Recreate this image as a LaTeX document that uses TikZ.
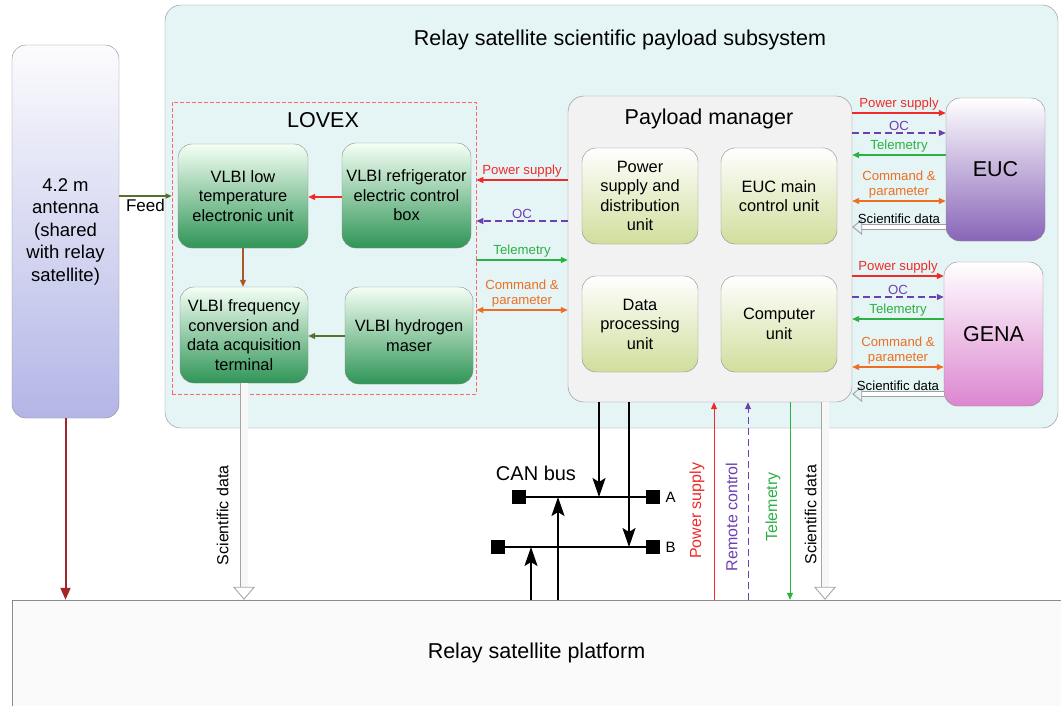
\documentclass[tikz,border=0pt]{standalone}
\usepackage{fontspec}
\setmainfont{Liberation Sans}
\usetikzlibrary{positioning,calc,arrows.meta}

\definecolor{pwred}{HTML}{F02A2A}
\definecolor{ocpurple}{HTML}{6E3FB0}
\definecolor{tmgreen}{HTML}{2EB045}
\definecolor{cmdorange}{HTML}{EE6E22}
\definecolor{feedgreen}{HTML}{55702F}
\definecolor{antred}{HTML}{A0262A}
\definecolor{brownarr}{HTML}{A8582A}
\definecolor{subfill}{HTML}{E5F5F5}
\definecolor{vlbigreen}{HTML}{2F9556}
\definecolor{unitgreen}{HTML}{D0DE9C}
\definecolor{eucpurple}{HTML}{8865B8}
\definecolor{genapink}{HTML}{DC86D0}
\definecolor{antblue}{HTML}{B3B6E6}
\definecolor{boxgray}{HTML}{8A8A8A}

\tikzset{
  box/.style={draw=boxgray, rounded corners=14pt, align=center, inner sep=2pt,
              font=\fontsize{16.4}{19.5}\selectfont},
  vlbi/.style={box, top color=green!4!white, bottom color=vlbigreen,
               minimum width=129pt, minimum height=100pt},
  unit/.style={box, top color=white, bottom color=unitgreen,
               minimum width=116pt, minimum height=96pt},
  big/.style={font=\fontsize{21.5}{24}\selectfont},
  lbl/.style={font=\fontsize{13.2}{15}\selectfont, inner sep=2pt, align=center},
  vlbl/.style={font=\fontsize{16}{18}\selectfont, rotate=90, anchor=south, inner xsep=3pt, inner ysep=9pt},
  tip/.style={-{Triangle[length=7pt,width=6pt]}},
  pwline/.style={pwred, line width=1.2pt, tip},
  ocline/.style={ocpurple, line width=1.2pt, dash pattern=on 7pt off 4pt, tip},
  tmline/.style={tmgreen, line width=1.2pt, tip},
  cmdline/.style={cmdorange, line width=1.2pt, {Triangle[length=7pt,width=6pt]}-{Triangle[length=7pt,width=6pt]}},
  sci/.style={draw=gray!75, line width=0.9pt, double=white, double distance=3.5pt,
              -{Triangle[open, length=10pt, width=16pt]}},
  scidown/.style={draw=gray!70, line width=0.9pt, double=gray!6, double distance=7pt,
              -{Triangle[open, length=13pt, width=22pt]}},
  canarr/.style={black, line width=2.2pt, -{Stealth[length=19pt,width=13pt,inset=4pt]}},
  sq/.style={fill=black, minimum size=14pt, inner sep=0pt}
}

\begin{document}
\begin{tikzpicture}[x=1pt,y=-1pt]
\useasboundingbox (0,0) rectangle (1061,705);
\fill[white] (0,0) rectangle (1061,705);

% Subsystem frame
\node[draw=boxgray, fill=subfill, rounded corners=16pt, minimum width=893pt, minimum height=423pt] (subsys) at (611.5,216.5) {};
\node[big] (subtitle) at (620,40) {Relay satellite scientific payload subsystem};

% LOVEX
\node[draw=red!60, dash pattern=on 4pt off 2pt, line width=0.6pt, minimum width=304pt, minimum height=292pt] (lovex) at (324,248) {};
\node[big] (lovextitle) at (323,120) {LOVEX};
\node[vlbi, minimum width=130pt, minimum height=104pt] (lowtemp) at (243,196) {VLBI low\\temperature\\electronic unit};
\node[vlbi, minimum height=105pt] (fridge) at (406.5,195.5) {VLBI refrigerator\\electric control\\box};
\node[vlbi, minimum width=128pt, minimum height=96pt] (freqconv) at (244,335) {VLBI frequency\\conversion and\\data acquisition\\terminal};
\node[vlbi, minimum width=128pt, minimum height=97pt] (maser) at (409,335.5) {VLBI hydrogen\\maser};

% Payload manager
\node[draw=boxgray, fill=gray!10, rounded corners=16pt, minimum width=284pt, minimum height=306pt] (pm) at (710,249) {};
\node[big] (pmtitle) at (709,119) {Payload manager};
\node[unit] (psd) at (640,196) {Power\\supply and\\distribution\\unit};
\node[unit] (eucmain) at (779,196) {EUC main\\control unit};
\node[unit] (dpu) at (640,324) {Data\\processing\\unit};
\node[unit] (cpu) at (779,324) {Computer\\unit};

% Instruments
\node[box, big, top color=white, bottom color=eucpurple, minimum width=99pt, minimum height=143pt] (euc) at (995.5,169.5) {EUC};
\node[box, big, top color=white, bottom color=genapink, minimum width=99pt, minimum height=144pt] (gena) at (993.5,334) {GENA};

% Antenna and platform
\node[box, top color=white!95!antblue, bottom color=antblue, minimum width=107pt, minimum height=373pt,
      font=\fontsize{18.5}{22.5}\selectfont] (antenna) at (65.5,231.5) {4.2 m\\antenna\\(shared\\with relay\\satellite)};
\node[draw=boxgray, fill=gray!4, minimum width=1049pt, minimum height=106pt, big] (platform) at (536.5,653) {Relay satellite platform};

% LOVEX internal arrows
\draw[pwline] (fridge.west |- 0,197) -- (lowtemp.east |- 0,197);
\draw[brownarr, line width=1.2pt, tip] (lowtemp.south) -- (lowtemp.south |- freqconv.north);
\draw[feedgreen, line width=1.2pt, tip] (maser.west |- 0,336) -- (freqconv.east |- 0,336);
\draw[feedgreen, line width=1.2pt, -{Triangle[length=6pt,width=5pt]}] (antenna.east |- 0,196) -- node[below, text=black, font=\fontsize{17}{19}\selectfont, inner sep=3pt] {Feed} (lovex.west |- 0,196);

% Payload manager <-> LOVEX
\draw[pwline] (pm.west |- 0,180) -- node[above, lbl, text=pwred] {Power supply} (lovex.east |- 0,180);
\draw[ocline] (pm.west |- 0,221) -- node[above, lbl, text=ocpurple] {OC} (lovex.east |- 0,221);
\draw[tmline] (lovex.east |- 0,260) -- node[above, lbl, text=tmgreen] {Telemetry} (pm.west |- 0,260);
\draw[cmdline] (lovex.east |- 0,310) -- node[above, lbl, text=cmdorange] {Command \&\\parameter} (pm.west |- 0,310);

% Payload manager <-> EUC
\draw[pwline] (pm.east |- 0,113) -- node[above, lbl, text=pwred] {Power supply} (euc.west |- 0,113);
\draw[ocline] (pm.east |- 0,133) -- node[above, lbl, text=ocpurple] {OC} (euc.west |- 0,133);
\draw[tmline] (euc.west |- 0,155) -- node[above, lbl, text=tmgreen] {Telemetry} (pm.east |- 0,155);
\draw[cmdline] (pm.east |- 0,201) -- node[above, lbl, text=cmdorange] {Command \&\\parameter} (euc.west |- 0,201);
\draw[sci] (euc.west |- 0,227) -- node[above, lbl, yshift=1pt] {Scientific data} (pm.east |- 0,227);

% Payload manager <-> GENA
\draw[pwline] (pm.east |- 0,276) -- node[above, lbl, text=pwred] {Power supply} (gena.west |- 0,276);
\draw[ocline] (pm.east |- 0,297) -- node[above, lbl, text=ocpurple] {OC} (gena.west |- 0,297);
\draw[tmline] (gena.west |- 0,319) -- node[above, lbl, text=tmgreen] {Telemetry} (pm.east |- 0,319);
\draw[cmdline] (pm.east |- 0,367) -- node[above, lbl, text=cmdorange] {Command \&\\parameter} (gena.west |- 0,367);
\draw[sci] (gena.west |- 0,394) -- node[above, lbl, yshift=1pt] {Scientific data} (pm.east |- 0,394);

% Down to the platform
\draw[antred, line width=2pt, -{Triangle[length=12pt,width=10pt]}] (antenna.south) -- (antenna.south |- platform.north);
\draw[scidown] (freqconv.south) -- node[vlbl, pos=0.61, inner ysep=15pt, text=black] {Scientific data} (freqconv.south |- platform.north);
\draw[pwline, line width=1pt] (platform.north -| 714,0) -- node[vlbl, pos=0.45, text=pwred] {Power supply} (pm.south -| 714,0);
\draw[ocline, line width=1pt] (platform.north -| 748,0) -- node[vlbl, pos=0.42, inner ysep=10pt, text=ocpurple] {Remote control} (pm.south -| 748,0);
\draw[tmline, line width=1pt] (pm.south -| 790,0) -- node[vlbl, pos=0.53, text=tmgreen] {Telemetry} (platform.north -| 790,0);
\draw[scidown] (pm.south -| 825,0) -- node[vlbl, pos=0.57, inner ysep=8pt, text=black] {Scientific data} (platform.north -| 825,0);

% CAN bus
\node[sq] (busAl) at (518.5,497) {};
\node[sq] (busAr) at (653,497) {};
\node[sq] (busBl) at (498,547) {};
\node[sq] (busBr) at (653,547) {};
\draw[line width=2.2pt] (busAl) -- (busAr);
\draw[line width=2.2pt] (busBl) -- (busBr);
\node[font=\fontsize{15}{17}\selectfont, right=2pt of busAr] (labA) {A};
\node[font=\fontsize{15}{17}\selectfont, right=2pt of busBr] (labB) {B};
\node[font=\fontsize{20}{22}\selectfont] (canlabel) at (536,473) {CAN bus};
\draw[canarr] (pm.south -| 599,0) -- (busAl -| 599,0);
\draw[canarr] (pm.south -| 629,0) -- (busBl -| 629,0);
\draw[canarr] (platform.north -| 558,0) -- (busAl -| 558,0);
\draw[canarr] (platform.north -| 531,0) -- (busBl -| 531,0);

\end{tikzpicture}
\end{document}
